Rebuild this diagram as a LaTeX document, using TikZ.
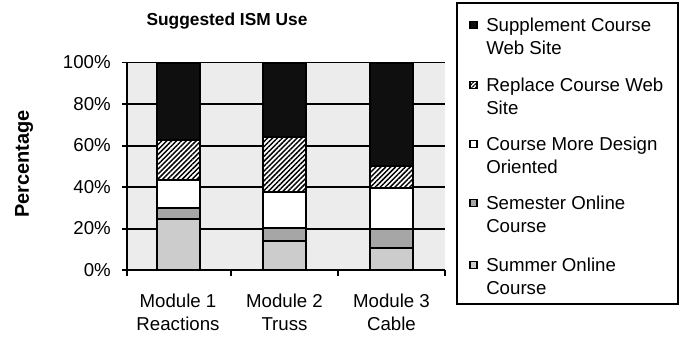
\documentclass[tikz,border=0pt]{standalone}
\usepackage{fontspec}
\setmainfont{Liberation Sans}
\usetikzlibrary{patterns.meta}

\tikzset{
  seg/.style={draw=black, line width=1.5pt},
  summer/.style={seg, fill=gray!40},
  semester/.style={seg, fill=gray!70},
  design/.style={seg, fill=white},
  replace/.style={seg, preaction={fill=white}, pattern={Lines[angle=45,distance=2.6pt,line width=1.1pt]}},
  supplement/.style={seg, fill=gray!12!black},
  grid/.style={black, line width=1.5pt},
  swatch/.style={draw=black, line width=0.8pt},
  lbl/.style={inner sep=0pt},
}

\begin{document}
\begin{tikzpicture}[x=0.75pt, y=-0.75pt, font=\fontsize{14}{17.25}\selectfont]
          \useasboundingbox (0,0) rectangle (682,337);

          \fill [gray!15] (127,62.5) rectangle (445,270); % plot area

          \draw [grid] (122,228.5) -- (445,228.5); % 20%
          \draw [grid] (122,187) -- (445,187); % 40%
          \draw [grid] (122,145.5) -- (445,145.5); % 60%
          \draw [grid] (122,104) -- (445,104); % 80%
          \draw [grid, line width=1pt] (122,62.5) -- (445,62.5); % 100%

          % Module 1
          \draw [summer] (156.5,270) rectangle (199.5,219.4);
          \draw [semester] (156.5,219.4) rectangle (199.5,208.4);
          \draw [design] (156.5,208.4) rectangle (199.5,179.9);
          \draw [replace] (156.5,179.9) rectangle (199.5,139.9);
          \draw [supplement] (156.5,139.9) rectangle (199.5,62.5);

          % Module 2
          \draw [summer] (263,270) rectangle (306,241);
          \draw [semester] (263,241) rectangle (306,228.3);
          \draw [design] (263,228.3) rectangle (306,191.8);
          \draw [replace] (263,191.8) rectangle (306,137.2);
          \draw [supplement] (263,137.2) rectangle (306,62.5);

          % Module 3
          \draw [summer] (370,270) rectangle (413,248.2);
          \draw [semester] (370,248.2) rectangle (413,228.5);
          \draw [design] (370,228.5) rectangle (413,188);
          \draw [replace] (370,188) rectangle (413,166.3);
          \draw [supplement] (370,166.3) rectangle (413,62.5);

          \draw [line width=1pt] (127,62.5) -- (127,276); % value axis
          \draw [line width=1.5pt] (122,270) -- (445,270); % category axis
          \draw [line width=1pt] (231,270) -- (231,276);
          \draw [line width=1pt] (338,270) -- (338,276);
          \draw [line width=1pt] (445,270) -- (445,276);

          \node [lbl, font=\fontsize{13}{15}\selectfont\bfseries] (title) at (227,21) {Suggested ISM Use};
          \node [lbl, font=\fontsize{15}{17}\selectfont\bfseries, rotate=90] (ylabel) at (24,164) {Percentage};

          \node [lbl, anchor=east] (p0) at (111,270) {0\%};
          \node [lbl, anchor=east] (p20) at (111,228.5) {20\%};
          \node [lbl, anchor=east] (p40) at (111,187) {40\%};
          \node [lbl, anchor=east] (p60) at (111,145.5) {60\%};
          \node [lbl, anchor=east] (p80) at (111,104) {80\%};
          \node [lbl, anchor=east] (p100) at (111,62.5) {100\%};

          \node [lbl, align=center] (mod1) at (178,312.5) {Module 1\\Reactions};
          \node [lbl, align=center] (mod2) at (284.5,312.5) {Module 2\\Truss};
          \node [lbl, align=center] (mod3) at (391.5,312.5) {Module 3\\Cable};

          \draw [black, line width=0.8pt] (457,3) rectangle (678,304); % legend

          \draw [swatch, fill=gray!12!black] (470,21.5) rectangle (477,28.5);
          \draw [swatch, pattern={Lines[angle=45,distance=2pt,line width=0.8pt]}] (470,81.5) rectangle (477,88.5);
          \draw [swatch, fill=white] (470,140.5) rectangle (477,147.5);
          \draw [swatch, fill=gray!70] (470,199.5) rectangle (477,206.5);
          \draw [swatch, fill=gray!40] (470,261.5) rectangle (477,268.5);

          \node [lbl, align=left, anchor=west] (leg1) at (486,36.5) {Supplement Course\\Web Site};
          \node [lbl, align=left, anchor=west] (leg2) at (486,96.5) {Replace Course Web\\Site};
          \node [lbl, align=left, anchor=west] (leg3) at (486,155.5) {Course More Design\\Oriented};
          \node [lbl, align=left, anchor=west] (leg4) at (486,214.5) {Semester Online\\Course};
          \node [lbl, align=left, anchor=west] (leg5) at (486,276.5) {Summer Online\\Course};
        \end{tikzpicture}
\end{document}
